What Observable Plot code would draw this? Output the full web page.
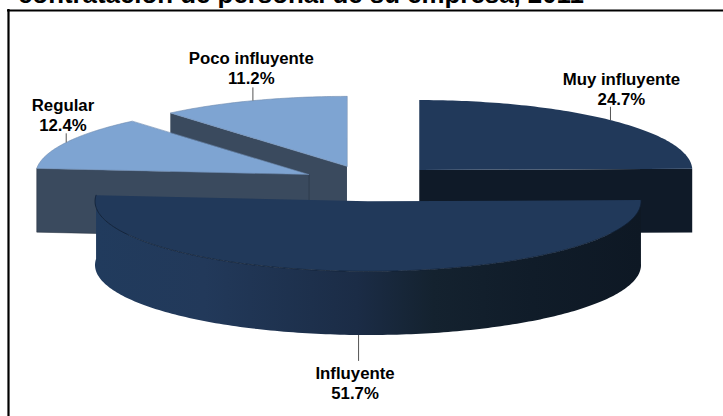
<!DOCTYPE html>
<html lang="es">
<head>
<meta charset="utf-8">
<script src="https://cdn.jsdelivr.net/npm/d3@7"></script>
<script src="https://cdn.jsdelivr.net/npm/@observablehq/plot@0.6"></script>
<style>
  html, body { margin: 0; padding: 0; background: #fff; overflow: hidden; width: 723px; height: 416px; }
  #titulo {
    position: absolute; left: 18px; top: -19px; white-space: nowrap;
    font: bold 25.85px/26px "Liberation Sans", Arial, sans-serif; color: #000;
  }
  #grafico { position: absolute; left: 0; top: 0; }
  #grafico svg { display: block; }
</style>
</head>
<body>
<div id="grafico"></div>
<div id="titulo">contratación de personal de su empresa, 2011</div>
<script>
// Porcentajes por categoría, en sentido horario desde las 12
const categorias = ["Muy influyente", "Influyente", "Regular", "Poco influyente"];
const porcentajes = [24.7, 51.7, 12.4, 11.2];

// Apariencia y separación de cada porción
const separacion = [0.255, 0.265, 0.255, 0.25];
const colorTapa = ["#21395a", "#21395a", "#7ea4d2", "#7ea4d2"];
const colorCorte = ["#0f1a28", null, "#3a4a5e", "#3a4a5e"];
const largoGuia = [0.19, 0.37, 0.13, 0.19];

// Desplazamiento de cada rótulo respecto al final de su guía, en unidades del pastel
const rotuloX = [0.04, -0.013, -0.012, -0.006];
const rotuloY = [0.03, -0.06, 0.03, 0.05];

// Proyección del pastel: elipse en píxeles por unidad y altura del cilindro
const RX = 273, RY = 70, CX = 370, CY = 182.3, ALTO = 0.91;

const rad = (g) => (g * Math.PI) / 180;
const borde = (c, g) => ({x: c.x + Math.sin(rad(g)), y: c.y + Math.cos(rad(g))});

// Ángulos acumulados y centro desplazado de cada porción
let acumulado = 0;
const porciones = categorias.map((nombre, i) => {
  const a0 = (acumulado / 100) * 360;
  acumulado += porcentajes[i];
  const a1 = (acumulado / 100) * 360;
  const medio = (a0 + a1) / 2;
  const centro = {
    x: separacion[i] * Math.sin(rad(medio)),
    y: separacion[i] * Math.cos(rad(medio))
  };
  return {nombre, valor: porcentajes[i], a0, a1, medio, centro, i};
});

const arco = (p) => d3.range(p.a0, p.a1, 1).concat(p.a1).map((g) => borde(p.centro, g));
const tapa = (p) => [p.centro, ...arco(p)];
const bajar = (q) => ({x: q.x, y: q.y - ALTO});

// Cara recta visible al separar la porción, de la punta al borde indicado
const corte = (p, g) => {
  const b = borde(p.centro, g);
  return [p.centro, b, bajar(b), bajar(p.centro)];
};

const [muy, influyente, regular, poco] = porciones;

// Pared exterior de la porción frontal
const arcoFrente = arco(influyente);
const pared = [...arcoFrente, ...arcoFrente.slice().reverse().map(bajar)];

const poligono = (puntos, fill, extra = {}) =>
  Plot.line(puntos, {x: "x", y: "y", fill, stroke: "none", curve: "linear-closed", ...extra});

// Guías: parten del borde exterior en el ángulo medio
const guias = porciones.map((p, i) => {
  const b = borde(p.centro, p.medio);
  const frente = p === influyente;
  const y1 = frente ? b.y - ALTO : b.y;
  const y2 = frente ? y1 - largoGuia[i] : y1 + largoGuia[i];
  return {
    x: b.x, y1, y2, frente,
    tx: b.x + rotuloX[i],
    ty: y2 + rotuloY[i],
    texto: `${p.nombre}\n${p.valor.toFixed(1)}%`
  };
});

// Sombreado horizontal de la pared frontal
const degradado = () => {
  const defs = d3.create("svg:defs");
  const g = defs.append("linearGradient").attr("id", "sombra");
  [[0, "#213b5d"], [0.2, "#22395a"], [0.48, "#1b2c46"], [0.62, "#14222f"], [0.8, "#101c29"], [1, "#0e1824"]]
    .forEach(([o, c]) => g.append("stop").attr("offset", o).attr("stop-color", c));
  return defs.node();
};

const fuenteEtiqueta = {
  fontFamily: "'Liberation Sans', Arial, sans-serif",
  fontWeight: "bold",
  fontSize: 16.8,
  lineHeight: 1.19,
  fill: "#000"
};

const grafico = Plot.plot({
  width: 723,
  height: 416,
  margin: 0,
  x: {axis: null, domain: [-CX / RX, (723 - CX) / RX], range: [0, 723]},
  y: {axis: null, domain: [CY / RY, (CY - 416) / RY], range: [0, 416]},
  marks: [
    degradado,
    poligono(corte(poco, poco.a0), colorCorte[3]),
    poligono(tapa(poco), colorTapa[3], {stroke: "#6d8aae", strokeWidth: 0.6}),
    poligono(corte(regular, regular.a0), colorCorte[2], {stroke: "#26303e", strokeWidth: 0.5}),
    poligono(tapa(regular), colorTapa[2], {stroke: "#6d8aae", strokeWidth: 0.6}),
    poligono(corte(muy, muy.a1), colorCorte[0]),
    poligono(tapa(muy), colorTapa[0]),
    poligono(pared, "url(#sombra)"),
    poligono(tapa(influyente), colorTapa[1]),
    Plot.line(arcoFrente, {x: "x", y: "y", stroke: "#101f33", strokeWidth: 0.8}),
    Plot.link(guias, {x1: "x", x2: "x", y1: "y1", y2: "y2", stroke: "#555", strokeWidth: 1}),
    Plot.text(guias.filter((d) => !d.frente), {
      x: "tx", y: "ty", text: "texto", lineAnchor: "bottom", ...fuenteEtiqueta
    }),
    Plot.text(guias.filter((d) => d.frente), {
      x: "tx", y: "ty", text: "texto", lineAnchor: "top", ...fuenteEtiqueta
    }),
    // Marco: solo los lados superior e izquierdo quedan dentro del lienzo
    Plot.ruleX([-CX / RX], {y1: CY / RY, y2: (CY - 416) / RY, stroke: "#000", strokeWidth: 2.2, dx: 8, dy: 9}),
    Plot.ruleY([CY / RY], {x1: -CX / RX, x2: (723 - CX) / RX, stroke: "#000", strokeWidth: 2.2, dy: 10, dx: 7})
  ]
});
document.getElementById("grafico").append(grafico);
</script>
</body>
</html>
